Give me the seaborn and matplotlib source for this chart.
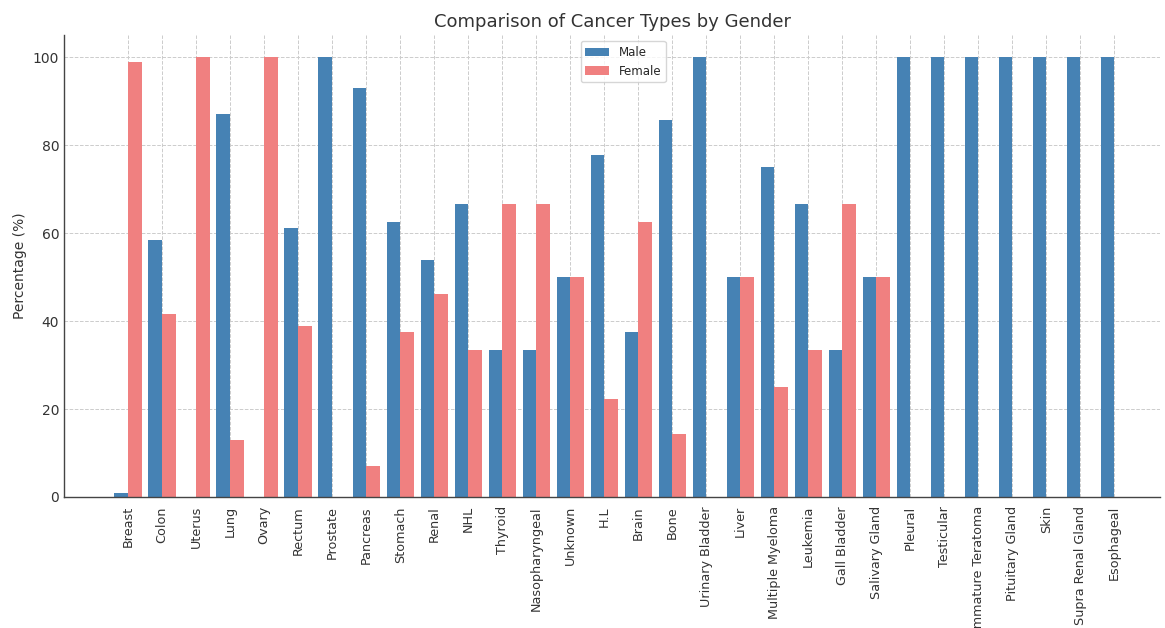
import matplotlib
matplotlib.use("Agg")
import matplotlib.pyplot as plt
import seaborn as sns
import pandas as pd

categories = ["Breast", "Colon", "Uterus", "Lung", "Ovary", "Rectum", "Prostate", "Pancreas",
              "Stomach", "Renal", "NHL", "Thyroid", "Nasopharyngeal", "Unknown", "H.L", "Brain",
              "Bone", "Urinary Bladder", "Liver", "Multiple Myeloma", "Leukemia", "Gall Bladder",
              "Salivary Gland", "Pleural", "Testicular", "Immature Teratoma", "Pituitary Gland",
              "Skin", "Supra Renal Gland", "Esophageal"]
male = [1.0, 58.33, 0, 87.0, 0, 61.1, 100, 92.9, 62.5, 53.85, 66.67, 33.33, 33.33, 50, 77.78,
        37.5, 85.71, 100, 50, 75, 66.67, 33.33, 50, 100, 100, 100, 100, 100, 100, 100]
female = [99.0, 41.67, 100, 13.0, 100, 38.9, 0, 7.1, 37.5, 46.15, 33.33, 66.67, 66.67, 50, 22.22,
          62.5, 14.29, 0, 50, 25, 33.33, 66.67, 50, 0, 0, 0, 0, 0, 0, 0]

df = pd.DataFrame({
    "Cancer Type": categories * 2,
    "Percentage": male + female,
    "Gender": ["Male"] * len(categories) + ["Female"] * len(categories),
})

sns.set_style("white")
plt.rcParams['font.family'] = ['DejaVu Sans']

fig = plt.figure(figsize=(11.65, 6.28), dpi=100)
ax = fig.add_axes([0.055, 0.2086, 0.941, 0.7354])

sns.barplot(data=df, x="Cancer Type", y="Percentage", hue="Gender",
            palette={"Male": "#4682B4", "Female": "#F08080"}, width=0.8,
            saturation=1, ax=ax, errorbar=None, linewidth=0)

ax.set_xlim(-1.88, 30.35)
ax.set_ylim(0, 105)
ax.set_yticks([0, 20, 40, 60, 80, 100])
ax.set_title("Comparison of Cancer Types by Gender", fontsize=13, color="#333333")
ax.set_ylabel("Percentage (%)", fontsize=10, color="#333333")
ax.set_xlabel("")
ax.tick_params(axis="x", rotation=90, labelsize=9.2, length=3, color="#333333", labelcolor="#333333")
ax.tick_params(axis="y", labelsize=10, length=0, labelcolor="#333333")
ax.grid(True, linestyle="--", color="#cccccc", linewidth=0.7)
ax.set_axisbelow(True)
for s in ["top", "right"]:
    ax.spines[s].set_visible(False)
for s in ["left", "bottom"]:
    ax.spines[s].set_color("#444444")
    ax.spines[s].set_linewidth(1.0)
ax.legend(title=None, loc="upper center", bbox_to_anchor=(0.51, 1.0), fontsize=8.5, frameon=True)

fig.savefig("out.png", dpi=100)
